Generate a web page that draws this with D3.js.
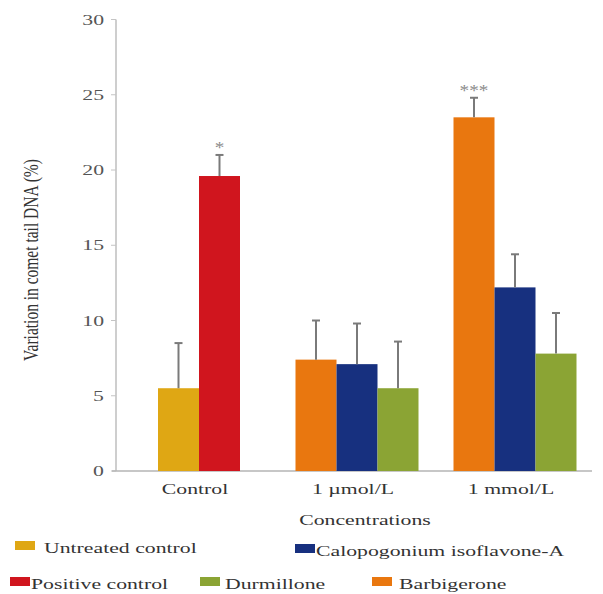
<!DOCTYPE html>
<html>
<head>
<meta charset="utf-8">
<script src="https://cdn.jsdelivr.net/npm/d3@7/dist/d3.min.js"></script>
<style>
  html, body { margin: 0; padding: 0; background: #fff; }
  svg { display: block; font-family: "Liberation Serif", "Times New Roman", serif; }
</style>
</head>
<body>
<svg id="chart" width="603" height="594"></svg>
<script>
// Comet assay: variation in tail DNA per treatment and concentration
const categories = ["Control", "1 µmol/L", "1 mmol/L"];
const seriesNames = ["Untreated control", "Positive control", "Barbigerone", "Calopogonium isoflavone-A", "Durmillone"];
const seriesColors = ["#DFA714", "#D0151E", "#E9770F", "#17307F", "#8BA434"];

// means (null = not measured in that group)
const untreatedMean  = [5.5, null, null];
const positiveMean   = [19.6, null, null];
const barbigeroneMean = [null, 7.4, 23.5];
const calopogoniumMean = [null, 7.1, 12.2];
const durmilloneMean = [null, 5.5, 7.8];

// standard deviations
const untreatedSD  = [3.0, null, null];
const positiveSD   = [1.4, null, null];
const barbigeroneSD = [null, 2.6, 1.3];
const calopogoniumSD = [null, 2.7, 2.2];
const durmilloneSD = [null, 3.1, 2.7];

// significance marks
const positiveSig    = ["*", null, null];
const barbigeroneSig = [null, null, "***"];
const untreatedSig = [null, null, null];
const calopogoniumSig = [null, null, null];
const durmilloneSig = [null, null, null];

const yTicks = [0, 5, 10, 15, 20, 25, 30];
const yTitle = "Variation in comet tail DNA (%)";
const xTitle = "Concentrations";

const means = [untreatedMean, positiveMean, barbigeroneMean, calopogoniumMean, durmilloneMean];
const sds = [untreatedSD, positiveSD, barbigeroneSD, calopogoniumSD, durmilloneSD];
const sigs = [untreatedSig, positiveSig, barbigeroneSig, calopogoniumSig, durmilloneSig];

const svg = d3.select("#chart");
const SX = 1.45;          // horizontal widening of the serif lettering
const FS = 15;

const x0 = d3.scaleBand().domain(categories).range([120, 594]).padding(0);
const y = d3.scaleLinear().domain([0, 30]).range([471, 19.5]);
const color = d3.scaleOrdinal().domain(seriesNames).range(seriesColors);
const barW = 41;

// helper: widened text
function wtext(parent, x, yy, str, opts = {}) {
  return parent.append("text")
    .attr("transform", `translate(${x},${yy}) scale(${opts.sx || SX},1)`)
    .attr("text-anchor", opts.anchor || "start")
    .attr("font-size", opts.size || FS)
    .attr("fill", opts.fill || "#333")
    .text(str);
}

// bars grouped per category, centred within the category band
const rows = [];
categories.forEach((cat, ci) => {
  const present = seriesNames.filter((s, si) => means[si][ci] != null);
  const x1 = d3.scaleBand().domain(present)
    .range([x0(cat) + x0.bandwidth() / 2 - present.length * barW / 2,
            x0(cat) + x0.bandwidth() / 2 + present.length * barW / 2]);
  present.forEach(s => {
    const si = seriesNames.indexOf(s);
    rows.push({cat, series: s, x: x1(s), w: x1.bandwidth(),
      mean: means[si][ci], sd: sds[si][ci], sig: sigs[si][ci]});
  });
});

// axes
const gy = svg.append("g").attr("transform", "translate(116,0)");
gy.append("line").attr("x1", 0).attr("x2", 0).attr("y1", y(30)).attr("y2", y(0))
  .attr("stroke", "#b4b4b4").attr("stroke-width", 1.3);
yTicks.forEach(t => {
  gy.append("line").attr("x1", -5).attr("x2", 0).attr("y1", y(t)).attr("y2", y(t))
    .attr("stroke", "#c4c4c4").attr("stroke-width", 1);
  wtext(gy, -12, y(t) + 5, String(t), {anchor: "end", fill: "#555"});
});

svg.append("line").attr("x1", 112).attr("x2", 592).attr("y1", y(0)).attr("y2", y(0))
  .attr("stroke", "#b4b4b4").attr("stroke-width", 1.3);

// bars
svg.append("g").selectAll("rect").data(rows).join("rect")
  .attr("x", d => d.x).attr("width", d => d.w)
  .attr("y", d => y(d.mean)).attr("height", d => y(0) - y(d.mean))
  .attr("fill", d => color(d.series));

// error bars (upper only)
const eb = svg.append("g").attr("stroke", "#7a7a7a").attr("stroke-width", 2);
rows.forEach(d => {
  const cx = d.x + d.w / 2;
  eb.append("line").attr("x1", cx).attr("x2", cx).attr("y1", y(d.mean)).attr("y2", y(d.mean + d.sd));
  eb.append("line").attr("x1", cx - 4).attr("x2", cx + 4).attr("y1", y(d.mean + d.sd)).attr("y2", y(d.mean + d.sd));
});

// significance stars
rows.filter(d => d.sig).forEach(d => {
  wtext(svg, d.x + d.w / 2, y(d.mean + d.sd) - 2, d.sig, {anchor: "middle", fill: "#8a8a8a", size: 16, sx: 1.2});
});

// category labels
categories.forEach(c => {
  wtext(svg, x0(c) + x0.bandwidth() / 2 - 4, 494, c, {anchor: "middle"});
});

// axis titles
wtext(svg, 365, 525, xTitle, {anchor: "middle"});
svg.append("text")
  .attr("transform", `translate(38,260) rotate(-90) scale(1,1.35)`)
  .attr("text-anchor", "middle").attr("font-size", 15.5).attr("fill", "#333")
  .text(yTitle);

// legend, two rows
const legendLayout = [
  {name: "Untreated control", x: 15, y: 541, gap: 9},
  {name: "Calopogonium isoflavone-A", x: 295, y: 544, gap: 1},
  {name: "Positive control", x: 10, y: 577, gap: 1},
  {name: "Durmillone", x: 200, y: 577, gap: 5},
  {name: "Barbigerone", x: 372, y: 577, gap: 7}
];
const lg = svg.append("g");
legendLayout.forEach(it => {
  lg.append("rect").attr("x", it.x).attr("y", it.y).attr("width", 20).attr("height", 9)
    .attr("fill", color(it.name));
  wtext(lg, it.x + 20 + it.gap, it.y + 12, it.name);
});
</script>
</body>
</html>
